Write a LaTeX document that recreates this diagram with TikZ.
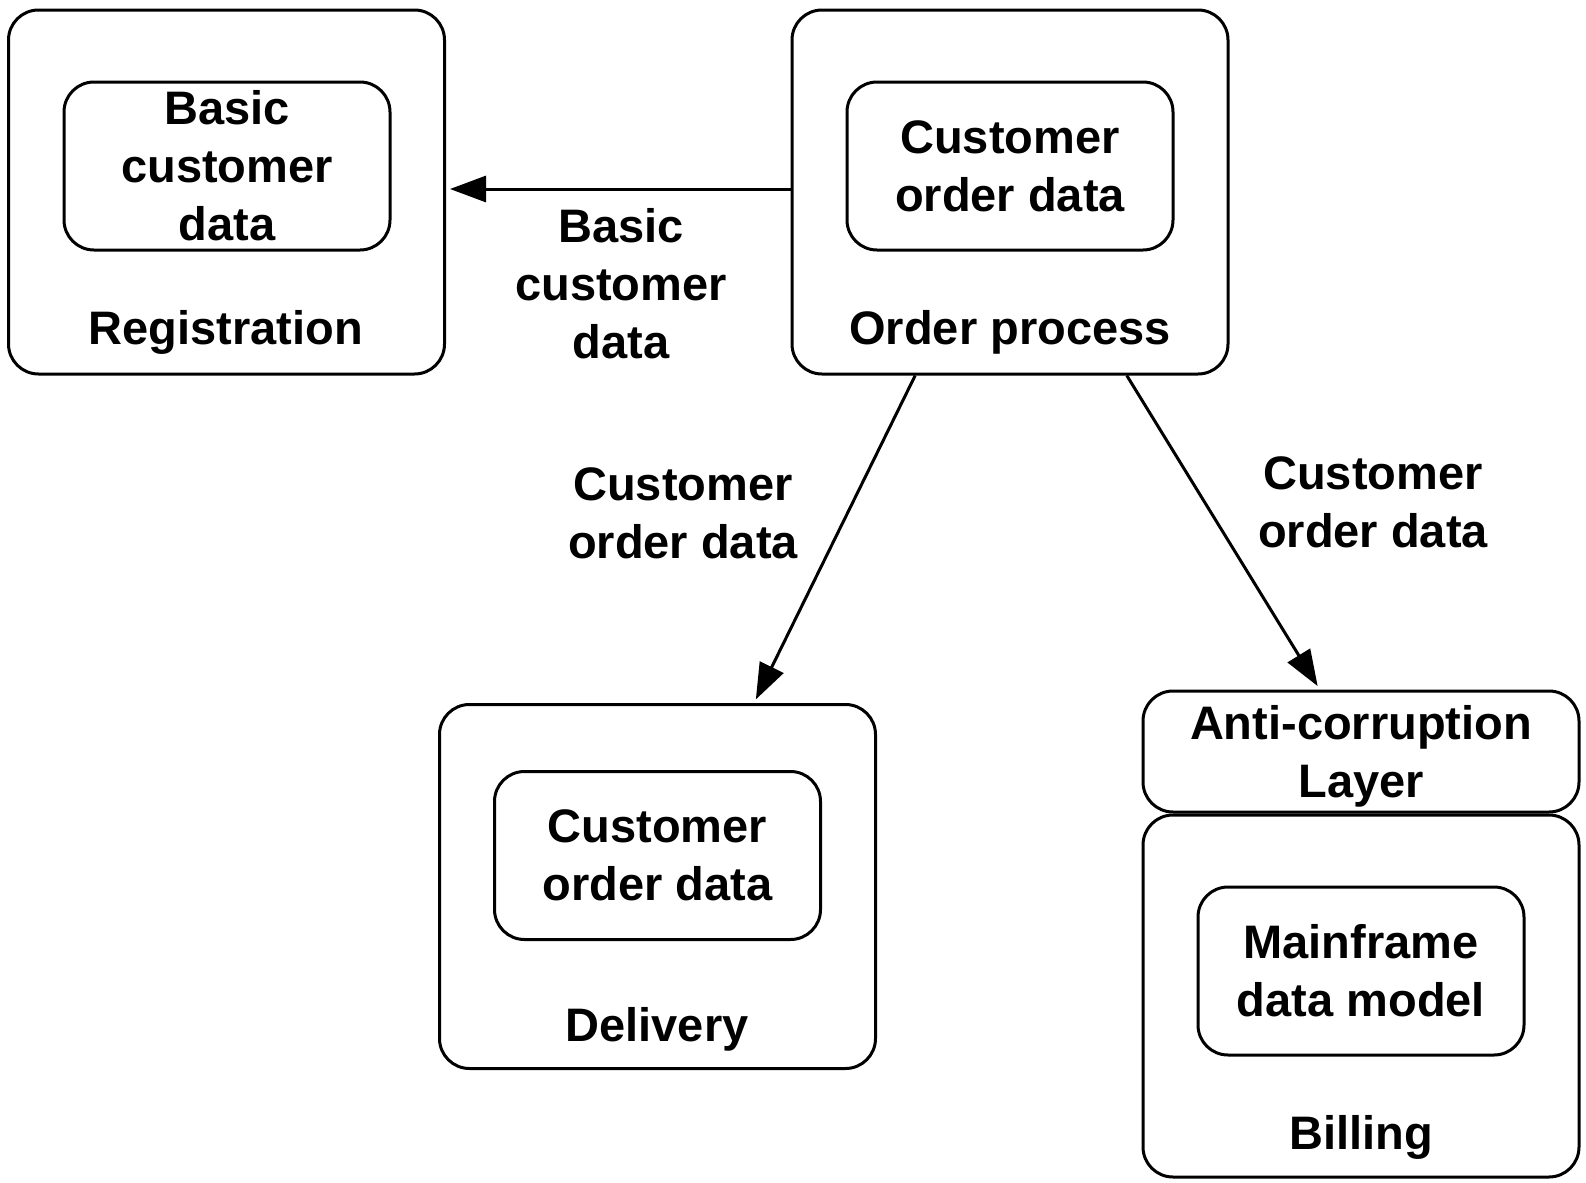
\documentclass[tikz,border=0pt]{standalone}
\usepackage{fontspec}
\setmainfont{Liberation Sans}
\usetikzlibrary{arrows.meta,calc}
\newcommand\lblfont{\fontsize{23.5}{29}\selectfont\bfseries}
\begin{document}
\begin{tikzpicture}[x=0.5pt,y=-0.5pt,
  box/.style={draw, line width=1.5pt, rounded corners=15pt, inner sep=0pt},
  outerbox/.style={box, minimum width=218pt, minimum height=182pt},
  innerbox/.style={box, minimum width=163pt, minimum height=84pt, align=center, font=\lblfont},
  title/.style={anchor=base, font=\lblfont, inner sep=0pt},
  flowlabel/.style={align=center, font=\lblfont, inner sep=0pt},
  flow/.style={line width=1.5pt, -{Triangle[length=18pt,width=13pt]}, shorten >=2pt}
]
\useasboundingbox (0,0) rectangle (1586,1183);

% outer contexts
\node[outerbox] (reg) at (226.5,192) {};
\node[outerbox] (order) at (1010,192) {};
\node[outerbox] (delivery) at (657.5,886.5) {};
\node[box, minimum width=218pt, minimum height=60.5pt] (acl) at (1361,751.5) {};
\node[flowlabel] (acltext) at (1361,756) {Anti-corruption\\Layer};
\node[box, minimum width=218pt, minimum height=181pt] (billing) at (1361,996) {};

% inner models
\node[innerbox] (reginner) at (227,166) {Basic\\customer\\data};
\node[innerbox] (orderinner) at (1010,166) {Customer\\order data};
\node[innerbox] (delinner) at (657.5,855.5) {Customer\\order data};
\node[innerbox] (billinner) at (1361,971) {Mainframe\\data model};

% titles
\node[title] (regtitle) at (226,344) {Registration};
\node[title] (ordertitle) at (1010,344) {Order process};
\node[title] (deltitle) at (657,1041) {Delivery};
\node[title] (billtitle) at (1361,1149) {Billing};

% connectors
\draw[flow] ($(order.west)+(0,-3)$) -- ($(reg.east)+(0,-3)$);
\draw[flow] ($(order.south west)!0.284!(order.south east)$) -- ($(delivery.north west)!0.72!(delivery.north east)$);
\draw[flow] ($(order.south west)!0.766!(order.south east)$) -- ($(acl.north west)!0.406!(acl.north east)$);

% connector labels
\node[flowlabel] (lbl1) at (621,284) {Basic\\customer\\data};
\node[flowlabel] (lbl2) at (683,513) {Customer\\order data};
\node[flowlabel] (lbl3) at (1373,502) {Customer\\order data};
\end{tikzpicture}
\end{document}
